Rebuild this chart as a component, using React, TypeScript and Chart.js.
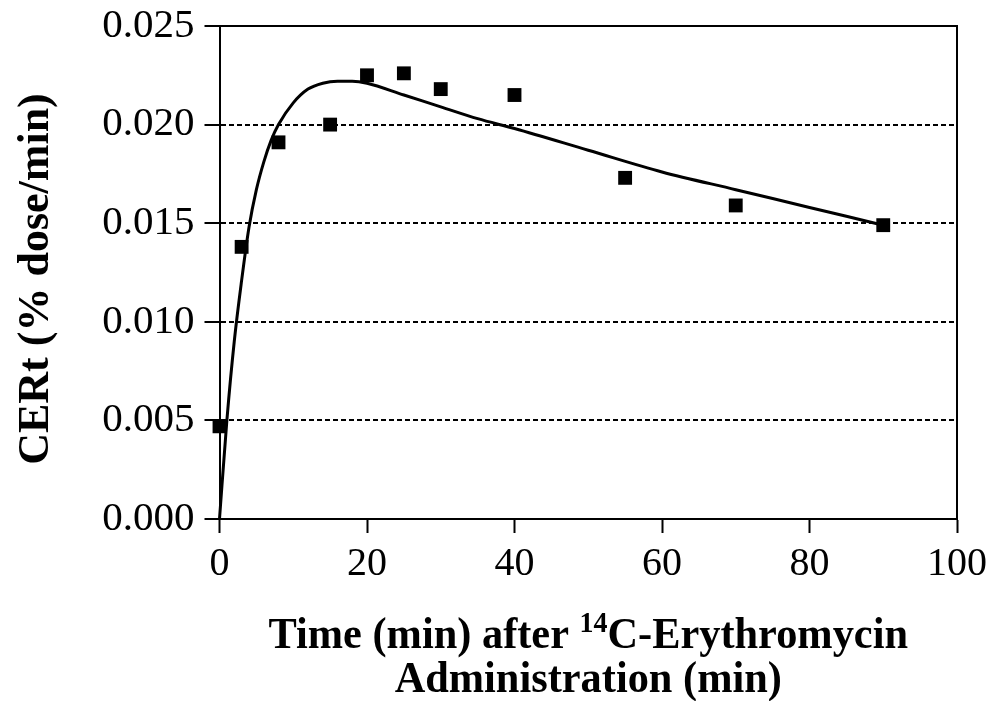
import React, { useEffect, useRef } from "react";
import { Chart, registerables } from "chart.js";

Chart.register(...registerables);

// Measured data points
const timePoints = [0, 3, 8, 15, 20, 25, 30, 40, 55, 70, 90];
const certValues = [0.0047, 0.0138, 0.0191, 0.02, 0.0225, 0.0226, 0.0218, 0.0215, 0.0173, 0.0159, 0.0149];

// Fitted curve
const fitTime = [0, 1, 2, 3, 4, 5, 6, 7, 8, 10, 12, 14, 16, 18, 20, 25, 30, 35, 40, 50, 60, 70, 80, 90];
const fitValues = [0, 0.005, 0.009, 0.0121, 0.0148, 0.0167, 0.0181, 0.0192, 0.0200, 0.0211, 0.0218, 0.0221, 0.0222, 0.0222, 0.0221, 0.0215, 0.0209, 0.0203, 0.0198, 0.0187, 0.0176, 0.0167, 0.0158, 0.0149];

const xTicks = [0, 20, 40, 60, 80, 100];
const yTicks = [0, 0.005, 0.01, 0.015, 0.02, 0.025];

const yTitle = "CERt (% dose/min)";
const xTitleBefore = "Time (min) after ";
const xTitleSup = "14";
const xTitleAfter = "C-Erythromycin";
const xTitleLine2 = "Administration (min)";

const FONT = "'Liberation Serif', 'Times New Roman', serif";

const framePlugin = {
  id: "frameAndTitles",
  afterDraw(chart: any) {
    const { ctx, chartArea } = chart;
    const { left, right, top, bottom } = chartArea;
    ctx.save();
    // top and right border
    ctx.strokeStyle = "#000";
    ctx.lineWidth = 2;
    ctx.setLineDash([]);
    ctx.beginPath();
    ctx.moveTo(left, top);
    ctx.lineTo(right, top);
    ctx.lineTo(right, bottom);
    ctx.stroke();

    ctx.fillStyle = "#000";
    // y title
    ctx.save();
    ctx.translate(48, 279);
    ctx.rotate(-Math.PI / 2);
    ctx.font = `bold 44px ${FONT}`;
    ctx.textAlign = "center";
    ctx.textBaseline = "alphabetic";
    ctx.fillText(yTitle, 0, 0);
    ctx.restore();

    // x title (slightly condensed, like the reference)
    const cx = (left + right) / 2;
    const sx = 0.963;
    const mainFont = `bold 44px ${FONT}`;
    const supFont = `bold 29px ${FONT}`;
    ctx.textBaseline = "alphabetic";
    ctx.textAlign = "left";
    ctx.font = mainFont;
    const w1 = ctx.measureText(xTitleBefore).width;
    const w3 = ctx.measureText(xTitleAfter).width;
    ctx.font = supFont;
    const w2 = ctx.measureText(xTitleSup).width;
    const total = w1 + w2 + w3;

    ctx.save();
    ctx.translate(cx, 648);
    ctx.scale(sx, 1);
    let x = -total / 2;
    ctx.font = mainFont;
    ctx.fillText(xTitleBefore, x, 0);
    x += w1;
    ctx.font = supFont;
    ctx.fillText(xTitleSup, x, -16);
    x += w2;
    ctx.font = mainFont;
    ctx.fillText(xTitleAfter, x, 0);
    ctx.restore();

    ctx.save();
    ctx.translate(cx, 692);
    ctx.scale(sx, 1);
    ctx.font = mainFont;
    ctx.textAlign = "center";
    ctx.fillText(xTitleLine2, 0, 0);
    ctx.restore();

    ctx.restore();
  },
};

export default function App() {
  const canvasRef = useRef<HTMLCanvasElement | null>(null);

  useEffect(() => {
    if (!canvasRef.current) return;
    const chart = new Chart(canvasRef.current, {
      type: "scatter",
      data: {
        datasets: [
          {
            label: "Fit",
            data: fitTime.map((t, i) => ({ x: t, y: fitValues[i] })),
            showLine: true,
            borderColor: "#000",
            borderWidth: 3,
            pointRadius: 0,
            cubicInterpolationMode: "monotone",
            fill: false,
            clip: false as any,
          },
          {
            label: "CERt",
            data: timePoints.map((t, i) => ({ x: t, y: certValues[i] })),
            showLine: false,
            pointStyle: "rect",
            pointRadius: 9.8,
            pointBorderWidth: 0,
            backgroundColor: "#000",
            borderColor: "#000",
            clip: false as any,
          },
        ],
      },
      options: {
        animation: false,
        responsive: true,
        maintainAspectRatio: false,
        layout: { padding: { left: 0, right: 35, top: 26, bottom: 0 } },
        plugins: {
          legend: { display: false },
          tooltip: { enabled: false },
          title: { display: false },
        },
        scales: {
          x: {
            type: "linear",
            min: 0,
            max: 100,
            afterFit: (scale: any) => {
              scale.height = 182;
              scale.paddingLeft = 0;
              scale.paddingRight = 0;
            },
            afterBuildTicks: (scale: any) => {
              scale.ticks = xTicks.map((v) => ({ value: v }));
            },
            ticks: {
              color: "#000",
              font: { family: FONT, size: 40 },
              padding: 7,
              maxRotation: 0,
              callback: (v: any) => String(v),
            },
            grid: {
              drawOnChartArea: false,
              drawTicks: true,
              tickLength: 14,
              tickWidth: 2,
              tickColor: "#000",
            },
            border: { display: true, color: "#000", width: 2 },
          },
          y: {
            type: "linear",
            min: 0,
            max: 0.025,
            afterFit: (scale: any) => {
              scale.width = 219.5;
              scale.paddingTop = 0;
              scale.paddingBottom = 0;
            },
            afterBuildTicks: (scale: any) => {
              scale.ticks = yTicks.map((v) => ({ value: v }));
            },
            ticks: {
              color: "#000",
              font: { family: FONT, size: 41 },
              padding: 10,
              callback: (v: any) => Number(v).toFixed(3),
            },
            grid: {
              drawOnChartArea: true,
              drawTicks: true,
              tickLength: 15,
              tickWidth: 2,
              tickColor: "#000",
              lineWidth: 2,
              tickBorderDash: [],
              color: (c: any) =>
                c.tick && (c.tick.value === 0 || Math.abs(c.tick.value - 0.025) < 1e-9)
                  ? "rgba(0,0,0,0)"
                  : "#000",
            },
            border: { display: true, color: "#000", width: 2, dash: [5, 3] },
          },
        },
      },
      plugins: [framePlugin],
    });
    return () => chart.destroy();
  }, []);

  return (
    <div style={{ position: "absolute", left: 0, top: 0, width: 992, height: 701, background: "#fff" }}>
      <canvas ref={canvasRef} />
    </div>
  );
}
